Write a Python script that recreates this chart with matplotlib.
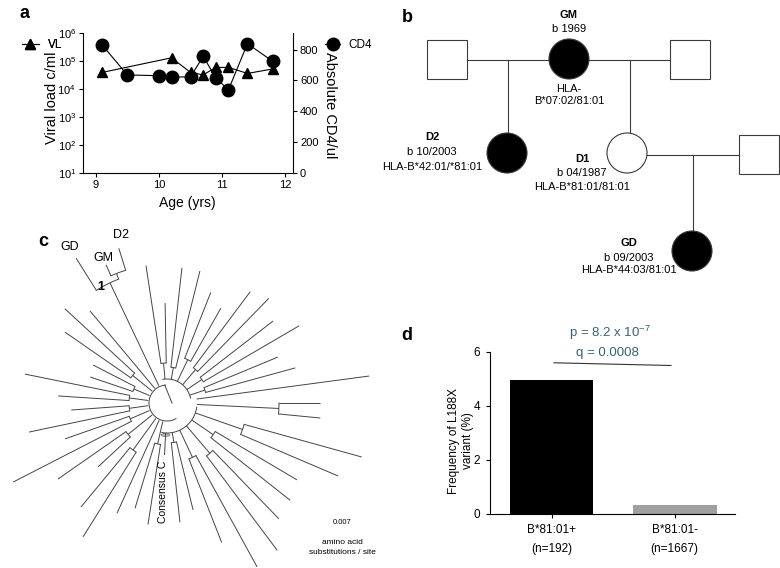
import numpy as np
import matplotlib
matplotlib.use('Agg')
import matplotlib.pyplot as plt
from matplotlib.patches import Circle, Rectangle, Ellipse
from matplotlib.ticker import NullLocator

plt.rcParams['font.family'] = ['Liberation Sans', 'DejaVu Sans']
plt.rcParams['mathtext.default'] = 'regular'

# ---- panel a data ----
vl_age = [9.1, 10.2, 10.5, 10.7, 10.9, 11.1, 11.4, 11.8]
vl = [3.9e4, 1.3e5, 3.9e4, 3.2e4, 5.9e4, 5.9e4, 3.6e4, 5.2e4]
cd4_age = [9.1, 9.5, 10.0, 10.2, 10.5, 10.7, 10.9, 11.1, 11.4, 11.8]
cd4 = [832, 636, 631, 623, 623, 757, 616, 540, 839, 724]

# ---- panel b data ----
partner_x = [447, 690, 759]
partner_y = [59, 59, 154]
people = ['GM', 'D2', 'D1', 'GD']
people_x = [569, 507, 627, 692]
people_y = [59, 153, 153, 251]
affected = [True, True, False, True]
births = ['b 1969', 'b 10/2003', 'b 04/1987', 'b 09/2003']
hla = ['HLA-\nB*07:02/81:01', 'HLA-B*42:01/*81:01', 'HLA-B*81:01/81:01', 'HLA-B*44:03/81:01']
couples = [(0, 0, 1), (1, 0, 2), (2, 2, 3)]  # (partner, parent, child)

# ---- panel c data (tip angle deg, tip radius, group) ----
tip_ang = [98.7, 91.1, 83.7, 76.0, 68.4, 60.4, 53.2, 45.8, 37.7, 30.3, 22.5, 15.3, 7.6,
           0.0, -5.6, -15.5, -23.1, -30.6, -38.3, -46.0, -53.2, -61.2, -68.6, -76.3, -83.8,
           -98.9, -106.9, -114.4, -122.1, -129.6, -137.2, -145.1, -152.8, -160.6, -168.1,
           -175.8, 176.3, 168.5, 161.3, 152.8, 145.2, 137.3, 129.9]
tip_r = [139, 100, 136, 136, 119, 109, 139, 146, 134, 153, 120, 133, 204,
         153, 154, 202, 186, 151, 157, 161, 184, 187, 150, 110, 120,
         123, 110, 121, 158, 135, 94, 133, 173, 108, 141, 96,
         109, 145, 81, 83, 124, 139, 120]
tip_group = [0, 0, 1, 1, 2, 2, 3, 3, 4, 4, 5, 5, 6,
             7, 7, 8, 8, 9, 9, 10, 10, 11, 11, 12, 12,
             13, 13, 14, 15, 15, 16, 16, 17, 17, 18, 18, 19, 19, 20, 20, 21, 21, 22]
group_node = [40, 36, 48, 44, 42, 40, 52, 112, 80, 56, 66, 60, 40,
              42, 44, 58, 50, 40, 38, 38, 36, 44, 48]
clade_names = ['GD', 'GM', 'D2']
clade_ang = [122.1, 113.8, 107.3]
clade_tip = [171, 151, 162]
clade_node = [133, 139, 139]

# ---- panel d data ----
d_groups = ['B*81:01+\n(n=192)', 'B*81:01-\n(n=1667)']
d_freq = [4.95, 0.33]

W, H = 780, 568
fig = plt.figure(figsize=(7.8, 5.68), dpi=100)


def fx(px):
    return px / W


def fy(py):
    return 1 - py / H


# ================= panel a =================
ax_a = fig.add_axes([fx(83), fy(173), (293 - 83) / W, (173 - 33) / H])
h_vl, = ax_a.plot(vl_age, vl, '-^', color='black', ms=7, lw=0.8)
ax_a.set_yscale('log')
ax_a.set_ylim(10, 1e6)
ax_a.set_xlim(8.8, 12.12)
ax_a.set_xticks([9, 10, 11, 12])
ax_a.yaxis.set_minor_locator(NullLocator())
ax_a.tick_params(labelsize=8, length=3, width=0.8, pad=2)
for s in ['top', 'right']:
    ax_a.spines[s].set_visible(False)
ax_r = ax_a.twinx()
h_cd4, = ax_r.plot(cd4_age, cd4, '-o', color='black', ms=9, lw=0.8)
ax_r.set_ylim(0, 908)
ax_r.set_yticks([0, 200, 400, 600, 800])
ax_r.tick_params(labelsize=8, length=3, width=0.8, pad=2)
for s in ['top', 'left', 'bottom']:
    ax_r.spines[s].set_visible(False)

fig.text(fx(52), fy(98), 'Viral load c/ml', rotation=90, ha='center', va='center', fontsize=10.5)
fig.text(fx(330), fy(105), 'Absolute CD4/ul', rotation=270, ha='center', va='center', fontsize=10.5)
fig.text(fx(187), fy(203), 'Age (yrs)', ha='center', va='center', fontsize=10)
leg1 = ax_a.legend([h_vl], ['VL'], loc='center left', bbox_to_anchor=(fx(22), fy(45)),
                   bbox_transform=fig.transFigure, frameon=False, borderpad=0,
                   borderaxespad=0, handlelength=1.4, handletextpad=0.8, fontsize=8.5)
ax_a.add_artist(leg1)
ax_r.legend([h_cd4], ['CD4'], loc='center left', bbox_to_anchor=(fx(325), fy(45)),
            bbox_transform=fig.transFigure, frameon=False, borderpad=0,
            borderaxespad=0, handlelength=1.3, handletextpad=0.7, fontsize=8.5)

# ================= panel b =================
ax_b = fig.add_axes([fx(380), fy(300), 400 / W, 300 / H])
ax_b.set_xlim(380, 780)
ax_b.set_ylim(300, 0)
ax_b.axis('off')
lc = '#3a3a3a'
sq_w, sq_h, rad = 40, 39, 20
for x, y in zip(partner_x, partner_y):
    ax_b.add_patch(Rectangle((x - sq_w / 2, y - sq_h / 2), sq_w, sq_h, fc='white', ec=lc, lw=0.8))
for x, y, aff in zip(people_x, people_y, affected):
    ax_b.add_patch(Circle((x, y), rad, fc='black' if aff else 'white', ec=lc, lw=0.8, zorder=3))
for p, par, ch in couples:
    px_, py_ = partner_x[p], partner_y[p]
    cx, cy = people_x[par], people_y[par]
    if px_ < cx:
        x0, x1 = px_ + sq_w / 2, cx - rad
    else:
        x0, x1 = cx + rad, px_ - sq_w / 2
    ym = (py_ + cy) / 2 + 1
    ax_b.plot([x0, x1], [ym, ym], color=lc, lw=0.8)
    xm = (x0 + x1) / 2
    ax_b.plot([xm, xm], [ym, people_y[ch] - rad], color=lc, lw=0.8)

label_x = [569, 432, 582, 629]
name_y = [15, 137, 159, 243]
birth_y = [29, 152, 173, 258]
hla_y = [95, 167, 187, 270]
for i, name in enumerate(people):
    ax_b.text(label_x[i], name_y[i], name, ha='center', va='center', fontsize=8, fontweight='bold')
    ax_b.text(label_x[i], birth_y[i], births[i], ha='center', va='center', fontsize=8)
    ax_b.text(label_x[i], hla_y[i], hla[i], ha='center', va='center', fontsize=8, linespacing=1.3)

# ================= panel c =================
ax_c = fig.add_axes([0, fy(568), 390 / W, 343 / H])
ax_c.set_xlim(-167, 223)
ax_c.set_ylim(-165, 178)
ax_c.axis('off')
tc = '#444444'
tlw = 0.7


def pol(a, r):
    t = np.deg2rad(a)
    return r * np.cos(t), r * np.sin(t)


def branch(a, r0, r1):
    x0, y0 = pol(a, r0)
    x1, y1 = pol(a, r1)
    ax_c.plot([x0, x1], [y0, y1], color=tc, lw=tlw, solid_capstyle='butt')


def arc(a0, a1, r):
    t = np.linspace(a0, a1, 60)
    x, y = pol(t, r)
    ax_c.plot(x, y, color=tc, lw=tlw)


def attach_r(a):
    if 10 <= a <= 100:
        return 24
    if -100 <= a < 10:
        return 30
    return 19


tip_ang_a = np.array(tip_ang)
tip_group_a = np.array(tip_group)
for g, node in enumerate(group_node):
    sel = tip_group_a == g
    angs = tip_ang_a[sel]
    for a, r in zip(angs, np.array(tip_r)[sel]):
        branch(a, node, r)
    if len(angs) > 1:
        arc(angs.min(), angs.max(), node)
    am = angs.mean()
    branch(am, attach_r(am), node)

# backbone
arc(95, 300, 18)
arc(12, 100, 24)
arc(-100, -8, 30)
x0, y0 = pol(97, 18)
ax_c.plot([x0, 5], [y0, 0], color=tc, lw=tlw)

# clade 1 (GD, GM, D2)
stem_ang = 115.4
branch(stem_ang, 19, clade_node[0])
arc(111.3, clade_ang[0], clade_node[0])
branch(111.3, clade_node[0], clade_node[1])
arc(clade_ang[2], clade_ang[1], clade_node[1])
for a, r0, r1 in zip(clade_ang, clade_node, clade_tip):
    branch(a, r0, r1)
ax_c.text(-97, 156, 'GD', ha='center', va='center', fontsize=9)
ax_c.text(-64, 145, 'GM', ha='center', va='center', fontsize=9)
ax_c.text(-46, 168, 'D2', ha='center', va='center', fontsize=9)
ax_c.text(-66, 116, '1', ha='center', va='center', fontsize=9, fontweight='bold')

# consensus C
branch(-92.7, 30, 52)
ax_c.add_patch(Ellipse(pol(-92.7, 32), 9, 3, fc='#b0b0b0', ec='#808080', lw=0.5))
ax_c.text(-4, -89, 'Consensus C', rotation=90, ha='center', va='center', fontsize=7.5)

ax_c.text(175, -119, '0.007', ha='center', va='center', fontsize=5.5)
ax_c.text(175, -139, 'amino acid', ha='center', va='center', fontsize=6)
ax_c.text(175, -150, 'substitutions / site', ha='center', va='center', fontsize=6)

# ================= panel d =================
ax_d = fig.add_axes([fx(490), fy(514), (735 - 490) / W, (514 - 352) / H])
xpos = np.arange(len(d_groups))
ax_d.bar(xpos, d_freq, width=0.68, color=['black', '#a0a0a0'])
ax_d.set_xlim(-0.5, 1.49)
ax_d.set_ylim(0, 6)
ax_d.set_yticks([0, 2, 4, 6])
ax_d.set_xticks(xpos)
ax_d.set_xticklabels(d_groups, linespacing=1.8)
ax_d.tick_params(labelsize=8.5, length=3, width=0.8, pad=4)
for s in ['top', 'right']:
    ax_d.spines[s].set_visible(False)
fig.text(fx(461), fy(441), 'Frequency of L188X\nvariant (%)', rotation=90, ha='center',
         va='center', fontsize=8.5, linespacing=1.25)
bracket_x = [0.02, 0.97]
bracket_y = [5.6, 5.5]
ax_d.plot(bracket_x, bracket_y, color='#333333', lw=0.8, clip_on=False)
pc = '#356274'
ax_d.text(0.47, 6.7, 'p = 8.2 x 10$^{-7}$', ha='center', va='center', fontsize=9.5, color=pc)
ax_d.text(0.45, 5.96, 'q = 0.0008', ha='center', va='center', fontsize=9.5, color=pc)

# panel letters
for lab, x, y in [('a', 25, 13), ('b', 407, 18), ('c', 43, 242), ('d', 407, 335)]:
    fig.text(fx(x), fy(y), lab, ha='center', va='center', fontsize=13, fontweight='bold')

fig.savefig('out.png', dpi=100)
